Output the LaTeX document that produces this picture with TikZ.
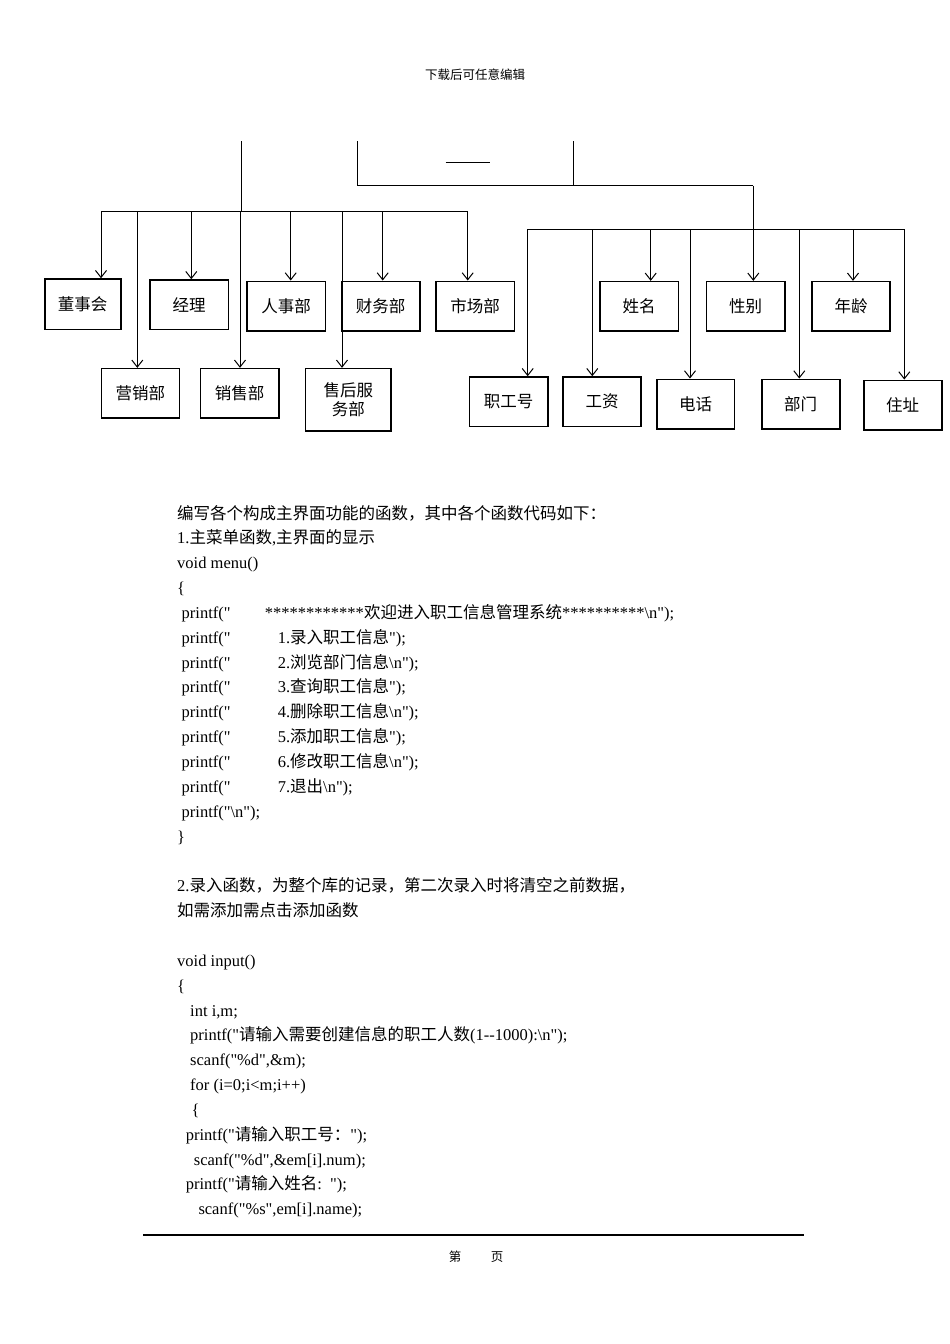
\documentclass[tikz,border=0pt]{standalone}
\usepackage{fontspec}
\setmainfont{Liberation Serif}[Ligatures=TeXOff]
\newfontfamily\cjk{Noto Sans CJK SC}
\usetikzlibrary{arrows.meta}
\newcommand\zh[1]{{\cjk #1}}
\newcommand\bs{\textbackslash}
\newcommand\pfx[2]{\makebox[#1][l]{printf("}#2}
\begin{document}
\begin{tikzpicture}[x=1pt,y=-1pt,
  box/.style={draw,line width=1.6pt,inner sep=0pt,align=center,font=\cjk\fontsize{16.5}{19}\selectfont},
  conn/.style={line width=1pt},
  arr/.style={conn,-{Straight Barb[length=7pt,width=11pt,line width=1pt]}},
  txt/.style={anchor=base west,inner sep=0pt,font=\fontsize{16.5}{20}\selectfont},
  small/.style={inner sep=0pt,font=\cjk\fontsize{12.5}{14}\selectfont}
]
\fill[white] (0,0) rectangle (950,1344);
\useasboundingbox (0,0) rectangle (950,1344);

% header
\node[small] (hdr) at (475,75) {下载后可任意编辑};

% boxes upper row
\node[box,minimum width=76,minimum height=50.3] (dsh) at (82.7,304.2) {董事会};
\node[box,minimum width=78.3,minimum height=49.3] (jl) at (189.2,304.7) {经理};
\node[box,minimum width=78.3,minimum height=49.7] (rsb) at (286.2,306.2) {人事部};
\node[box,minimum width=78,minimum height=49.7] (cwb) at (380.7,306.2) {财务部};
\node[box,minimum width=78.3,minimum height=49.7] (scb) at (475.2,306.2) {市场部};
\node[box,minimum width=78.3,minimum height=49.3] (xm) at (639.2,306.3) {姓名};
\node[box,minimum width=78.4,minimum height=49.3] (xb) at (745.5,306.3) {性别};
\node[box,minimum width=78,minimum height=49.3] (nl) at (851,306.3) {年龄};
% boxes lower row
\node[box,minimum width=78,minimum height=49.3] (yxb) at (140.3,393.3) {营销部};
\node[box,minimum width=78.4,minimum height=49.3] (xsb) at (239.5,393.3) {销售部};
\node[box,minimum width=85.3,minimum height=62.3] (shfw) at (348.3,399.8) {售后服\\务部};
\node[box,minimum width=78.4,minimum height=49.3] (zgh) at (508.5,401.7) {职工号};
\node[box,minimum width=78,minimum height=49.3] (gz) at (602,401.7) {工资};
\node[box,minimum width=77.6,minimum height=49.7] (dh) at (695.5,404.2) {电话};
\node[box,minimum width=78,minimum height=49.7] (bm) at (800.7,404.2) {部门};
\node[box,minimum width=78,minimum height=49.7] (zz) at (902.7,405.2) {住址};

% top structure
\coordinate (t1) at (241,141);
\coordinate (b1) at (241,211);
\draw[conn] (t1) -- (b1);
\coordinate (t2) at (357.3,141);
\coordinate (c2) at (357.3,185.7);
\coordinate (t3) at (573.3,141);
\coordinate (c3) at (573.3,185.7);
\coordinate (c4) at (753.3,185.7);
\draw[conn] (t2) -- (c2) -- (c4);
\draw[conn] (t3) -- (c3);
\coordinate (s1) at (445.7,162.7);
\coordinate (s2) at (490,162.7);
\draw[conn] (s1) -- (s2);
\draw[arr] (c4) -- (c4 |- xb.north);

% bus 1
\coordinate (L1) at (101,211);
\coordinate (R1) at (467.7,211);
\draw[conn] (L1) -- (R1);
\draw[arr] (101,211) -- (101,211 |- dsh.north);
\draw[arr] (137.3,211) -- (137.3,211 |- yxb.north);
\draw[arr] (191.3,211) -- (191.3,211 |- jl.north);
\draw[arr] (240,211) -- (240,211 |- xsb.north);
\draw[arr] (290.7,211) -- (290.7,211 |- rsb.north);
\draw[arr] (342,211) -- (342,211 |- shfw.north);
\draw[arr] (382.7,211) -- (382.7,211 |- cwb.north);
\draw[arr] (467.7,211) -- (467.7,211 |- scb.north);

% bus 2
\coordinate (L2) at (527.7,229.3);
\coordinate (R2) at (904.3,229.3);
\draw[conn] (L2) -- (R2);
\draw[arr] (527.7,229.3) -- (527.7,229.3 |- zgh.north);
\draw[arr] (592.3,229.3) -- (592.3,229.3 |- gz.north);
\draw[arr] (650.7,229.3) -- (650.7,229.3 |- xm.north);
\draw[arr] (690,229.3) -- (690,229.3 |- dh.north);
\draw[arr] (799.3,229.3) -- (799.3,229.3 |- bm.north);
\draw[arr] (853,229.3) -- (853,229.3 |- nl.north);
\draw[arr] (904.3,229.3) -- (904.3,229.3 |- zz.north);

% body text
\node[txt] (l0) at (177,519) {\zh{编写各个构成主界面功能的函数，其中各个函数代码如下：}};
\node[txt] (l1) at (177,543.85) {1.\zh{主菜单函数},\zh{主界面的显示}};
\node[txt] (l2) at (177,568.7) {void menu()};
\node[txt] (l3) at (177,593.55) {\{};
\node[txt] (l4) at (181.5,618.4) {\pfx{83.3pt}{************\zh{欢迎进入职工信息管理系统}**********\bs n");}};
\node[txt] (l5) at (181.5,643.25) {\pfx{96.1pt}{1.\zh{录入职工信息}");}};
\node[txt] (l6) at (181.5,668.1) {\pfx{96.1pt}{2.\zh{浏览部门信息}\bs n");}};
\node[txt] (l7) at (181.5,692.95) {\pfx{96.1pt}{3.\zh{查询职工信息}");}};
\node[txt] (l8) at (181.5,717.8) {\pfx{96.1pt}{4.\zh{删除职工信息}\bs n");}};
\node[txt] (l9) at (181.5,742.65) {\pfx{96.1pt}{5.\zh{添加职工信息}");}};
\node[txt] (l10) at (181.5,767.5) {\pfx{96.1pt}{6.\zh{修改职工信息}\bs n");}};
\node[txt] (l11) at (181.5,792.35) {\pfx{96.1pt}{7.\zh{退出}\bs n");}};
\node[txt] (l12) at (181.5,817.2) {printf("\bs n");};
\node[txt] (l13) at (177,842.05) {\}};
\node[txt] (l15) at (177,891.75) {2.\zh{录入函数，为整个库的记录，第二次录入时将清空之前数据，}};
\node[txt] (l16) at (177,916.6) {\zh{如需添加需点击添加函数}};
\node[txt] (l18) at (177,966.3) {void input()};
\node[txt] (l19) at (177,991.15) {\{};
\node[txt] (l20) at (190,1016) {int i,m;};
\node[txt] (l21) at (190,1040.85) {printf("\zh{请输入需要创建信息的职工人数}(1--1000):\bs n");};
\node[txt] (l22) at (190,1065.7) {scanf("\%d",\&m);};
\node[txt] (l23) at (190,1090.55) {for (i=0;i<m;i++)};
\node[txt] (l24) at (191.5,1115.4) {\{};
\node[txt] (l25) at (185.7,1140.25) {printf("\zh{请输入职工号：}");};
\node[txt] (l26) at (193.7,1165.1) {scanf("\%d",\&em[i].num);};
\node[txt] (l27) at (185.7,1189.95) {printf("\zh{请输入姓名}:\ \ ");};
\node[txt] (l28) at (198.3,1214.8) {scanf("\%s",em[i].name);};

% footer
\coordinate (f1) at (143,1235);
\coordinate (f2) at (804,1235);
\draw[line width=1.5pt] (f1) -- (f2);
\node[small] (di) at (455,1257) {第};
\node[small] (ye) at (497,1257) {页};
\end{tikzpicture}
\end{document}
